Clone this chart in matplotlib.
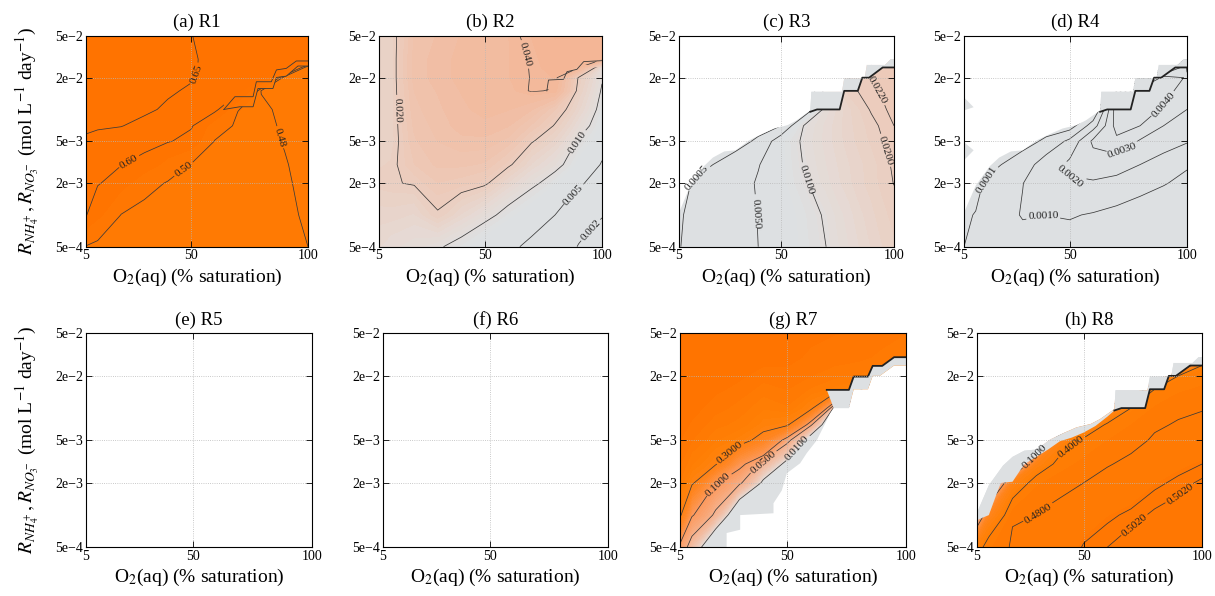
import numpy as np
import matplotlib
matplotlib.use("Agg")
import matplotlib.pyplot as plt
from matplotlib.colors import LinearSegmentedColormap
from matplotlib.patches import Polygon, PathPatch
from matplotlib.path import Path

plt.rcParams["font.family"] = "serif"
plt.rcParams["font.serif"] = ["Liberation Serif", "DejaVu Serif"]
plt.rcParams["mathtext.fontset"] = "stix"

# ---------------------------------------------------------------------------
# Tabulation grid: O2 saturation (%) and supply rate (mol L-1 day-1)
o2_grid = [5, 10, 20, 30, 40, 50, 60, 70, 80, 90, 100]
r_grid = [5e-4, 1e-3, 2e-3, 3e-3, 5e-3, 7e-3, 1e-2, 1.5e-2, 2e-2, 2.5e-2, 3e-2, 5e-2]

# Upper edge of the low-rate regime (R3, R4, R8 defined below it)
o2_low = [5, 10, 15, 20, 25, 30, 35, 40, 45, 50, 55, 60, 63, 66, 76, 78, 84, 86, 89, 95, 100]
r_low = [9.0e-4, 1.0e-3, 2.0e-3, 2.05e-3, 3.0e-3, 3.5e-3, 4.1e-3, 4.9e-3, 5.3e-3,
         5.9e-3, 6.8e-3, 8.3e-3, 9.5e-3, 1.0e-2, 1.0e-2, 1.5e-2, 1.5e-2, 2.0e-2,
         2.0e-2, 2.5e-2, 2.5e-2]
# Upper edge of the transition strip (no solution above it for R3, R4, R8)
o2_gap = [5, 10, 16, 20, 25, 30, 36, 42, 47, 53, 57, 63, 63.5, 77, 78, 87, 88, 96, 98.6, 100]
r_gap = [1.05e-3, 1.9e-3, 2.9e-3, 3.5e-3, 4.0e-3, 4.1e-3, 5.1e-3, 5.9e-3, 6.6e-3,
         7.1e-3, 7.9e-3, 9.8e-3, 1.47e-2, 1.47e-2, 1.97e-2, 1.97e-2, 2.64e-2,
         2.64e-2, 3.0e-2, 3.0e-2]
# Lower edge of the high-rate regime (R7 defined above it)
o2_r7 = [5, 24.6, 24.6, 30.3, 30.3, 44.3, 44.3, 47.8, 49.9, 55.5, 58.3, 62.5, 68.1,
         69.6, 76, 78, 84, 86, 89, 95, 100]
r_r7 = [5e-4, 5e-4, 6.8e-4, 7.3e-4, 1.0e-3, 1.04e-3, 1.29e-3, 1.7e-3, 2.46e-3,
        3.05e-3, 3.8e-3, 5.0e-3, 8.9e-3, 1.0e-2, 1.0e-2, 1.5e-2, 1.5e-2, 2.0e-2,
        2.0e-2, 2.5e-2, 2.5e-2]
# Lower edge of the fully developed R7 region in the stepped part
o2_r7_top = [66.7, 76, 78, 84, 86, 90, 95, 100]
r_r7_top = [1.48e-2, 1.48e-2, 1.97e-2, 1.97e-2, 2.48e-2, 2.48e-2, 2.99e-2, 2.99e-2]
# Jump of R1 across the regime change (lower and upper side)
o2_r1_jump_lo = [64, 70.8, 76.5, 78.6, 85.0, 86.5, 90.7, 95.7, 100]
r_r1_jump_lo = [1.0e-2, 1.06e-2, 1.06e-2, 1.58e-2, 1.58e-2, 2.01e-2, 2.07e-2, 2.58e-2, 2.58e-2]
o2_r1_jump_hi = [64, 68.7, 76.5, 77.9, 84.3, 86.5, 90.7, 95.0, 100]
r_r1_jump_hi = [1.0e-2, 1.32e-2, 1.32e-2, 1.83e-2, 1.83e-2, 2.37e-2, 2.45e-2, 2.88e-2, 2.88e-2]
# Upper side of the R2 jump
o2_r2_jump = [76.5, 77.2, 83.6, 85.1, 89.3, 92.2, 100]
r_r2_jump = [1.5e-2, 1.9e-2, 1.93e-2, 2.28e-2, 2.4e-2, 2.84e-2, 2.9e-2]
# Isolated cells with zero R4 rate at the left border
r4_cells_o2 = [[5, 9.1, 5], [5, 9.1, 5]]
r4_cells_r = [[1.3e-2, 1.05e-2, 9.8e-3], [4.9e-3, 4.1e-3, 3.3e-3]]

# Rate fields, one list per O2 value (rates listed from low to high supply)
r1_cols = [
    [0.498, 0.603, 0.615, 0.625, 0.647, 0.654, 0.660, 0.665, 0.670, 0.672, 0.675, 0.680],
    [0.490, 0.560, 0.605, 0.620, 0.643, 0.653, 0.660, 0.665, 0.670, 0.672, 0.675, 0.680],
    [0.485, 0.499, 0.570, 0.603, 0.637, 0.651, 0.658, 0.665, 0.670, 0.672, 0.675, 0.680],
    [0.484, 0.490, 0.515, 0.580, 0.625, 0.642, 0.656, 0.663, 0.668, 0.670, 0.672, 0.676],
    [0.483, 0.488, 0.497, 0.530, 0.605, 0.625, 0.645, 0.655, 0.662, 0.665, 0.667, 0.670],
    [0.482, 0.486, 0.492, 0.499, 0.580, 0.607, 0.625, 0.645, 0.654, 0.656, 0.656, 0.651],
    [0.481, 0.484, 0.488, 0.492, 0.499, 0.520, 0.620, 0.625, 0.632, 0.635, 0.636, 0.636],
    [0.481, 0.482, 0.485, 0.487, 0.490, 0.494, 0.501, 0.620, 0.626, 0.630, 0.632, 0.633],
    [0.484, 0.486, 0.488, 0.489, 0.490, 0.490, 0.487, 0.478, 0.620, 0.625, 0.628, 0.630],
    [0.487, 0.486, 0.484, 0.482, 0.478, 0.475, 0.472, 0.468, 0.466, 0.610, 0.622, 0.628],
    [0.480, 0.476, 0.472, 0.470, 0.467, 0.465, 0.464, 0.462, 0.460, 0.458, 0.615, 0.625],
]
r2_cols = [
    [0.0140, 0.0160, 0.0190, 0.0180, 0.0175, 0.0175, 0.0175, 0.0175, 0.0175, 0.0175, 0.0175, 0.0175],
    [0.0130, 0.0160, 0.0195, 0.0185, 0.0170, 0.0170, 0.0170, 0.0170, 0.0170, 0.0170, 0.0170, 0.0170],
    [0.0120, 0.0150, 0.0205, 0.0240, 0.0260, 0.0270, 0.0280, 0.0290, 0.0300, 0.0300, 0.0300, 0.0290],
    [0.0105, 0.0195, 0.0240, 0.0270, 0.0290, 0.0300, 0.0310, 0.0320, 0.0330, 0.0330, 0.0330, 0.0320],
    [0.0085, 0.0150, 0.0230, 0.0270, 0.0310, 0.0330, 0.0340, 0.0350, 0.0360, 0.0360, 0.0360, 0.0350],
    [0.0065, 0.0115, 0.0210, 0.0260, 0.0310, 0.0340, 0.0360, 0.0370, 0.0380, 0.0380, 0.0380, 0.0370],
    [0.0055, 0.0085, 0.0150, 0.0210, 0.0280, 0.0320, 0.0350, 0.0370, 0.0380, 0.0380, 0.0380, 0.0380],
    [0.0045, 0.0065, 0.0110, 0.0150, 0.0205, 0.0260, 0.0320, 0.0405, 0.0402, 0.0403, 0.0405, 0.0420],
    [0.0035, 0.0050, 0.0080, 0.0115, 0.0160, 0.0195, 0.0240, 0.0395, 0.0420, 0.0440, 0.0450, 0.0460],
    [0.0019, 0.0035, 0.0055, 0.0072, 0.0098, 0.0125, 0.0155, 0.0180, 0.0195, 0.0410, 0.0440, 0.0460],
    [0.0013, 0.0021, 0.0035, 0.0048, 0.0063, 0.0072, 0.0083, 0.0095, 0.0105, 0.0115, 0.0420, 0.0460],
]
r3_cols = [
    [0.0004, 0.0003, 0.0002, 0.0002, 0.0001, 0.0001, 0.0001, 0.0001, 0.0001, 0.0001, 0.0001, 0.0001],
    [0.0010, 0.0008, 0.00045, 0.0003, 0.0002, 0.0001, 0.0001, 0.0001, 0.0001, 0.0001, 0.0001, 0.0001],
    [0.0023, 0.0022, 0.0019, 0.0005, 0.0003, 0.0002, 0.0002, 0.0001, 0.0001, 0.0001, 0.0001, 0.0001],
    [0.0037, 0.0037, 0.0036, 0.0027, -0.0017, -0.002, -0.002, -0.002, -0.002, -0.002, -0.002, -0.002],
    [0.0050, 0.0051, 0.0053, 0.0048, 0.00144, -0.002, -0.002, -0.002, -0.002, -0.002, -0.002, -0.002],
    [0.0067, 0.0068, 0.0074, 0.0074, 0.0074, 0.0005, -0.002, -0.002, -0.002, -0.002, -0.002, -0.002],
    [0.0083, 0.0085, 0.0096, 0.0101, 0.0105, 0.0100, 0.0004, -0.002, -0.002, -0.002, -0.002, -0.002],
    [0.0100, 0.0104, 0.0121, 0.0126, 0.0131, 0.0130, 0.0118, 0.0120, 0.0120, 0.0120, 0.0120, 0.0120],
    [0.0126, 0.0133, 0.0148, 0.0151, 0.0159, 0.0161, 0.0162, 0.0191, 0.0200, 0.0200, 0.0200, 0.0200],
    [0.0153, 0.0162, 0.0175, 0.0175, 0.0186, 0.0191, 0.0204, 0.0214, 0.0222, 0.0220, 0.0220, 0.0220],
    [0.0180, 0.0190, 0.0201, 0.0205, 0.0214, 0.0220, 0.0228, 0.0235, 0.0240, 0.0242, 0.0242, 0.0242],
]
r4_cols = [
    [0.00010, 0.00004, -0.0001, -0.0002, -0.0002, -0.0002, -0.0002, -0.0002, -0.0002, -0.0002, -0.0002, -0.0002],
    [0.00035, 0.00012, -0.0001, -0.0002, -0.0002, -0.0002, -0.0002, -0.0002, -0.0002, -0.0002, -0.0002, -0.0002],
    [0.00060, 0.00070, 0.0005, 0.00005, -0.0003, -0.0003, -0.0003, -0.0003, -0.0003, -0.0003, -0.0003, -0.0003],
    [0.00080, 0.00105, 0.00098, 0.0006, -0.00035, -0.0005, -0.0005, -0.0005, -0.0005, -0.0005, -0.0005, -0.0005],
    [0.00070, 0.00101, 0.0016, 0.0014, 0.0003, -0.0005, -0.0005, -0.0005, -0.0005, -0.0005, -0.0005, -0.0005],
    [0.00080, 0.00105, 0.0019, 0.0022, 0.0012, -0.0004, -0.0005, -0.0005, -0.0005, -0.0005, -0.0005, -0.0005],
    [0.00070, 0.00095, 0.0019, 0.0026, 0.0032, 0.0015, -0.0003, -0.0005, -0.0005, -0.0005, -0.0005, -0.0005],
    [0.00060, 0.00080, 0.0017, 0.0025, 0.0038, 0.0044, 0.0046, 0.0000, 0.0000, 0.0000, 0.0000, 0.0000],
    [0.00050, 0.00070, 0.0013, 0.0020, 0.0029, 0.0040, 0.0046, 0.0048, 0.0000, 0.0000, 0.0000, 0.0000],
    [0.00040, 0.00060, 0.00105, 0.0017, 0.0024, 0.0030, 0.0039, 0.0044, 0.0046, 0.0000, 0.0000, 0.0000],
    [0.00030, 0.00050, 0.0008, 0.0011, 0.0021, 0.0026, 0.0030, 0.0035, 0.0039, 0.0041, 0.0000, 0.0000],
]
r7_cols = [
    [0.08, 0.32, 0.45, 0.50, 0.55, 0.57, 0.58, 0.60, 0.60, 0.60, 0.60, 0.60],
    [0.03, 0.105, 0.32, 0.42, 0.50, 0.54, 0.57, 0.59, 0.60, 0.60, 0.60, 0.60],
    [-0.02, 0.042, 0.11, 0.31, 0.42, 0.47, 0.52, 0.56, 0.58, 0.59, 0.60, 0.60],
    [-0.05, -0.02, 0.055, 0.12, 0.36, 0.44, 0.48, 0.53, 0.56, 0.58, 0.59, 0.60],
    [-0.05, -0.03, 0.005, 0.04, 0.24, 0.36, 0.42, 0.48, 0.52, 0.55, 0.57, 0.59],
    [-0.05, -0.05, -0.03, 0.002, 0.06, 0.32, 0.45, 0.50, 0.53, 0.55, 0.56, 0.58],
    [-0.05, -0.05, -0.05, -0.04, -0.01, 0.055, 0.33, 0.45, 0.50, 0.52, 0.54, 0.56],
    [-0.05, -0.05, -0.05, -0.05, -0.05, -0.04, -0.01, 0.40, 0.47, 0.50, 0.52, 0.55],
    [-0.05, -0.05, -0.05, -0.05, -0.05, -0.05, -0.01, 0.35, 0.45, 0.49, 0.51, 0.54],
    [-0.05, -0.05, -0.05, -0.05, -0.05, -0.05, -0.05, -0.01, 0.35, 0.45, 0.49, 0.52],
    [-0.05, -0.05, -0.05, -0.05, -0.05, -0.05, -0.05, -0.05, -0.01, 0.35, 0.45, 0.50],
]
r8_cols = [
    [0.35, -0.10, -0.3, -0.3, -0.3, -0.3, -0.3, -0.3, -0.3, -0.3, -0.3, -0.3],
    [0.45, 0.25, -0.3, -0.3, -0.3, -0.3, -0.3, -0.3, -0.3, -0.3, -0.3, -0.3],
    [0.485, 0.476, 0.30, -0.3, -0.3, -0.3, -0.3, -0.3, -0.3, -0.3, -0.3, -0.3],
    [0.490, 0.480, 0.45, 0.30, -0.3, -0.3, -0.3, -0.3, -0.3, -0.3, -0.3, -0.3],
    [0.495, 0.488, 0.47, 0.44, 0.30, -0.3, -0.3, -0.3, -0.3, -0.3, -0.3, -0.3],
    [0.5005, 0.495, 0.48, 0.465, 0.42, 0.25, -0.3, -0.3, -0.3, -0.3, -0.3, -0.3],
    [0.502, 0.499, 0.488, 0.478, 0.455, 0.42, 0.15, -0.3, -0.3, -0.3, -0.3, -0.3],
    [0.503, 0.501, 0.494, 0.486, 0.47, 0.455, 0.40, -0.3, -0.3, -0.3, -0.3, -0.3],
    [0.504, 0.5025, 0.499, 0.494, 0.484, 0.475, 0.46, 0.40, -0.3, -0.3, -0.3, -0.3],
    [0.504, 0.503, 0.501, 0.498, 0.49, 0.483, 0.472, 0.45, 0.40, -0.3, -0.3, -0.3],
    [0.5045, 0.504, 0.5025, 0.500, 0.493, 0.487, 0.478, 0.46, 0.44, 0.40, -0.3, -0.3],
]

titles = ["(a) R1", "(b) R2", "(c) R3", "(d) R4", "(e) R5", "(f) R6", "(g) R7", "(h) R8"]
x_ticks = [5, 50, 100]
x_tick_labels = ["5", "50", "100"]
y_ticks = [5e-4, 2e-3, 5e-3, 2e-2, 5e-2]
y_tick_labels = ["5e\u22124", "2e\u22123", "5e\u22123", "2e\u22122", "5e\u22122"]

# Panel settings: field, contour levels, label format, label anchor points
panels = {
    "(a) R1": dict(cols=r1_cols, levels=[0.48, 0.50, 0.60, 0.65], fmt="%.2f",
                   labels=[(54.4, 2.1e-2), (23.8, 3.1e-3), (45.2, 3.0e-3), (89.0, 5.5e-3)],
                   mode="r1"),
    "(b) R2": dict(cols=r2_cols, levels=[0.002, 0.005, 0.010, 0.020, 0.040], fmt="%.3f",
                   labels=[(67.3, 3.3e-2), (12.8, 9.9e-3), (90.0, 4.8e-3), (88.6, 1.5e-3), (95.0, 7.2e-4)],
                   mode="r2"),
    "(c) R3": dict(cols=r3_cols, levels=[0.0005, 0.005, 0.010, 0.020, 0.022], fmt="%.4f",
                   labels=[(15.0, 2.0e-3), (40.0, 1.03e-3), (62.6, 2.2e-3), (97.0, 4.1e-3), (92.3, 1.5e-2)],
                   mode="low"),
    "(d) R4": dict(cols=r4_cols, levels=[0.0001, 0.0010, 0.0020, 0.0030, 0.0040], fmt="%.4f",
                   labels=[(15.3, 2.07e-3), (38.8, 9.6e-4), (48.7, 2.1e-3), (71.5, 4.4e-3), (87.2, 1.23e-2)],
                   mode="low"),
    "(g) R7": dict(cols=r7_cols, levels=[0.01, 0.05, 0.10, 0.30], fmt="%.4f",
                   labels=[(26.7, 3.65e-3), (20.4, 1.98e-3), (40.1, 3.05e-3), (55.5, 4.06e-3)],
                   mode="high"),
    "(h) R8": dict(cols=r8_cols, levels=[0.10, 0.40, 0.48, 0.50, 0.502], fmt="%.4f",
                   labels=[(30.3, 3.4e-3), (46.4, 3.9e-3), (30.3, 1.08e-3), (88.5, 1.78e-3), (73.0, 7.3e-4)],
                   mode="low_full"),
}

# Axes boxes in pixels: left, right, top, bottom
W, H = 1215, 596
boxes = [(86, 308, 35.7, 246.7), (379, 602, 35.7, 246.7), (679, 894, 35.7, 246.7),
         (964, 1187, 35.7, 246.7), (86, 312, 333.3, 547.3), (383, 608, 333.3, 547.3),
         (680, 906, 333.3, 547.3), (977, 1202, 333.3, 547.3)]

# Colour scale: grey for vanishing rates, salmon to orange for large ones
GREY = "#dde0e2"
LINE = "#3a3a3a"
cmap = LinearSegmentedColormap.from_list("rate", [
    (0.00, GREY), (0.12, "#e6d9d3"), (0.25, "#edc9b8"), (0.40, "#f4b594"),
    (0.60, "#fc995c"), (0.80, "#ff851f"), (0.90, "#ff8005"), (1.00, "#ff7300")])
V0, V1 = 0.008, 0.6
inner = np.geomspace(V0, V1, 48)
fill_levels = np.concatenate([[-1.0], inner, [10.0]])
fill_colors = []
for lo, hi in zip(fill_levels[:-1], fill_levels[1:]):
    if lo <= 0:
        t = 0.0
    elif hi >= 10:
        t = 1.0
    else:
        t = np.log(np.sqrt(lo * hi) / V0) / np.log(V1 / V0)
    fill_colors.append(cmap(t))


def part(xs, ys, x0):
    xs = np.asarray(xs, float)
    ys = np.asarray(ys, float)
    keep = xs >= x0
    return xs[keep], ys[keep]


def strip_polygon(xa, ya, xb, yb, **kw):
    verts = list(zip(xa, ya)) + list(zip(xb[::-1], yb[::-1]))
    return Polygon(verts, closed=True, **kw)


def clip_outside(ax, hole):
    """Clip region covering the whole axes with the given polygon cut out."""
    outer = [(0.0, 1e-6), (300.0, 1e-6), (300.0, 10.0), (0.0, 10.0)]
    hx = np.array([p[0] for p in hole])
    hy = np.log10([p[1] for p in hole])
    area = 0.5 * np.sum(hx * np.roll(hy, -1) - np.roll(hx, -1) * hy)
    if area > 0:
        hole = hole[::-1]
    verts = outer + [outer[0]] + list(hole) + [hole[0]]
    codes = ([Path.MOVETO] + [Path.LINETO] * 3 + [Path.CLOSEPOLY] +
             [Path.MOVETO] + [Path.LINETO] * (len(hole) - 1) + [Path.CLOSEPOLY])
    return PathPatch(Path(verts, codes), transform=ax.transData, facecolor="none",
                     edgecolor="none")


fig = plt.figure(figsize=(W / 100, H / 100), dpi=100)

lx_s, ly_s = part(o2_low, r_low, 63)
gx_s, gy_s = part(o2_gap, r_gap, 63)
lx_all, ly_all = np.asarray(o2_low, float), np.asarray(r_low, float)
gx_all, gy_all = np.asarray(o2_gap, float), np.asarray(r_gap, float)

for title, (l, r, t, b) in zip(titles, boxes):
    ax = fig.add_axes([l / W, 1 - b / H, (r - l) / W, (b - t) / H])
    ax.set_yscale("log")
    ax.set_xlim(5, 100)
    ax.set_ylim(5e-4, 5e-2)

    spec = panels.get(title)
    if spec is not None:
        Z = np.array(spec["cols"]).T
        ax.contourf(o2_grid, r_grid, Z, levels=fill_levels, colors=fill_colors,
                    zorder=0.5, antialiased=False)
        cs = ax.contour(o2_grid, r_grid, Z, levels=spec["levels"], colors=LINE,
                        linewidths=0.55, zorder=1.5)
        mode = spec["mode"]
        if mode == "r1":
            jx = np.asarray(o2_r1_jump_lo, float)
            jy = np.asarray(r_r1_jump_lo, float)
            hole = list(zip(jx, jy)) + [(300.0, jy[-1]), (300.0, 5.0), (jx[0], 5.0)]
            cs.set_clip_path(clip_outside(ax, hole))
            ax.plot(o2_r1_jump_lo, r_r1_jump_lo, color=LINE, lw=0.6, zorder=1.8)
            ax.plot(o2_r1_jump_hi, r_r1_jump_hi, color=LINE, lw=0.6, zorder=1.8)
        elif mode == "r2":
            hole = (list(zip(np.append(lx_s, 300.0), np.append(ly_s, ly_s[-1]))) +
                    list(zip(np.append(gx_s, 300.0), np.append(gy_s, gy_s[-1])))[::-1])
            cs.set_clip_path(clip_outside(ax, hole))
            ax.plot(o2_r2_jump, r_r2_jump, color=LINE, lw=0.6, zorder=1.8)
        elif mode in ("low", "low_full"):
            top_x = np.concatenate([gx_all, [100, 5]])
            top_y = np.concatenate([gy_all, [0.06, 0.06]])
            ax.add_patch(Polygon(list(zip(top_x, top_y)), closed=True, facecolor="white",
                                 edgecolor="none", zorder=1.7))
            if mode == "low_full":
                ax.add_patch(strip_polygon(lx_all, ly_all, gx_all, gy_all, facecolor=GREY,
                                           edgecolor="none", zorder=1.75))
            else:
                ax.add_patch(strip_polygon(lx_s, ly_s, gx_s, gy_s, facecolor=GREY,
                                           edgecolor="none", zorder=1.75))
            ax.plot(lx_s, ly_s, color="#222222", lw=1.3, zorder=1.9)
            if title == "(d) R4":
                for cx, cy in zip(r4_cells_o2, r4_cells_r):
                    ax.add_patch(Polygon(list(zip(cx, cy)), closed=True, facecolor=GREY,
                                         edgecolor="none", zorder=1.8))
        elif mode == "high":
            bx = np.concatenate([np.asarray(o2_r7, float), [100, 5]])
            by = np.concatenate([np.asarray(r_r7, float), [4e-4, 4e-4]])
            ax.add_patch(Polygon(list(zip(bx, by)), closed=True, facecolor="white",
                                 edgecolor="none", zorder=1.7))
            ex, ey = part(o2_r7, r_r7, 69)
            ax.add_patch(strip_polygon(np.asarray(o2_r7_top, float), np.asarray(r_r7_top, float),
                                       ex, ey, facecolor=GREY, edgecolor="none", zorder=1.75))
            ax.plot(o2_r7_top, r_r7_top, color="#222222", lw=1.3, zorder=1.9)

        ax.clabel(cs, fmt=spec["fmt"], manual=spec["labels"], inline=True,
                  inline_spacing=2, fontsize=8, colors="#222222")

    ax.set_xticks(x_ticks)
    ax.set_xticklabels(x_tick_labels)
    ax.set_yticks(y_ticks)
    ax.set_yticklabels(y_tick_labels)
    ax.minorticks_off()
    ax.tick_params(direction="in", top=True, right=True, length=4, width=0.6,
                   labelsize=10, pad=2)
    ax.set_axisbelow(False)
    ax.grid(True, linestyle=":", color="#b8b8b8", linewidth=0.6)
    for sp in ax.spines.values():
        sp.set_linewidth(0.8)
        sp.set_zorder(3)
    ax.set_title(title, fontsize=13.5, pad=6)
    ax.set_xlabel(r"O$_2$(aq) (% saturation)", fontsize=14, labelpad=3)

ylab = r"$R_{NH_4^+}, R_{NO_3^-}$ (mol L$^{-1}$ day$^{-1}$)"
fig.text(28 / W, 1 - 141 / H, ylab, rotation=90, ha="center", va="center", fontsize=14)
fig.text(28 / W, 1 - 440 / H, ylab, rotation=90, ha="center", va="center", fontsize=14)

fig.savefig("out.png", dpi=100)
